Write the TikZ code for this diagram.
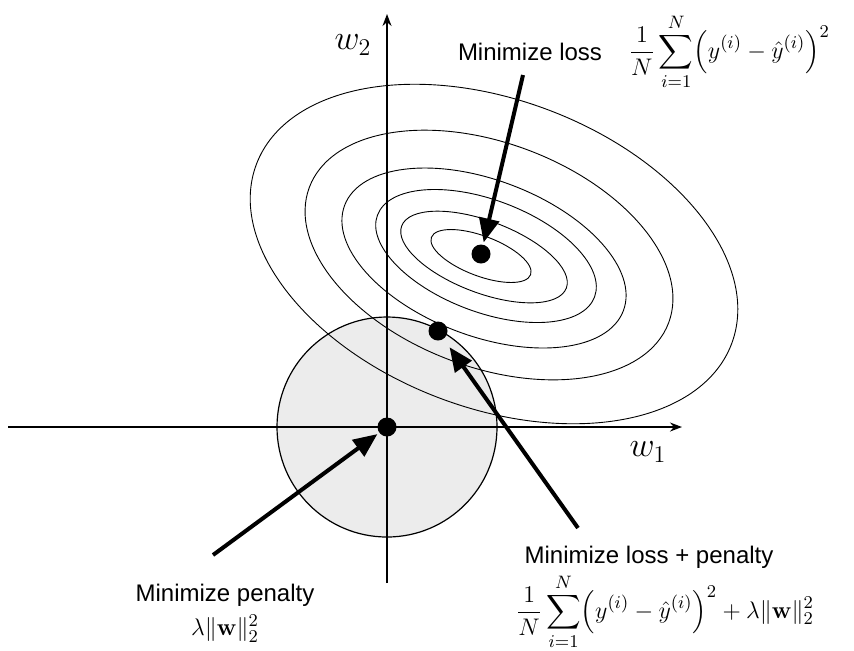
\documentclass[tikz,border=0pt]{standalone}
\usepackage{amsmath}
\usepackage[no-math]{fontspec}
\newfontfamily\labelfont{Liberation Sans}
\usetikzlibrary{arrows.meta, positioning}

\begin{document}
\begin{tikzpicture}[
        x=0.5pt, y=0.5pt,
        axis/.style={line width=0.8pt, -{Stealth[length=6pt, width=4.5pt]}},
        contour/.style={line width=0.45pt},
        dot/.style={circle, fill=black, inner sep=0pt, minimum size=9.5pt},
        pointer/.style={line width=2pt, -{Triangle[length=12pt, width=10pt]}, shorten >=1pt},
        caption/.style={font=\labelfont\fontsize{12}{14}\selectfont, inner sep=2pt},
        formula/.style={font=\fontsize{12.5}{15}\selectfont, inner sep=1pt},
        axislabel/.style={font=\fontsize{17}{20}\selectfont, inner sep=1pt}
    ]
    \useasboundingbox (0,0) rectangle (854,-650);

    % penalty region
    \draw[line width=0.6pt, fill=gray!15] (387,-427) circle[radius=110];

    % loss contours
    \foreach \cx/\cy/\ra/\rb in {494/-254/254/154, 489/-255/192/112, 484/-258/149/78,
                                 486/-256/116/56, 484/-257/88/36, 481/-256/53/20}
        \draw[contour, rotate around={-20.7:(\cx,\cy)}] (\cx,\cy) ellipse[x radius=\ra, y radius=\rb];

    % axes
    \coordinate (west) at (8,-427);
    \coordinate (east) at (682,-427);
    \coordinate (south) at (387,-583);
    \coordinate (north) at (387,-14);
    \draw[axis] (west) -- (east);
    \draw[axis] (south) -- (north);
    \node (wone) [axislabel] at (648,-452) {$w_1$};
    \node (wtwo) [axislabel] at (353,-45) {$w_2$};

    % minima
    \node (origin) [dot] at (387,-427) {};
    \node (lossmin) [dot] at (481,-254) {};
    \node (ridge) [dot] at (438,-331) {};

    % labels
    \node (losslabel) [caption] at (530,-52) {Minimize loss};
    \node (lossformula) [formula, right=10pt of losslabel] {$\displaystyle\frac{1}{N}\sum_{i=1}^{N}\Bigl(y^{(i)}-\hat{y}^{(i)}\Bigr)^2$};
    \node (penaltylabel) [caption] at (225,-595) {Minimize penalty};
    \node (penaltyformula) [formula, below=1pt of penaltylabel] {$\lambda\|\mathbf{w}\|_2^2$};
    \node (bothlabel) [caption] at (649,-557) {Minimize loss + penalty};
    \node (bothformula) [formula] at (665,-612) {$\displaystyle\frac{1}{N}\sum_{i=1}^{N}\Bigl(y^{(i)}-\hat{y}^{(i)}\Bigr)^2+\lambda\|\mathbf{w}\|_2^2$};

    % pointers
    \coordinate (losstail) at (523,-75);
    \coordinate (penaltytail) at (213,-555);
    \coordinate (bothtail) at (578,-528);
    \draw[pointer] (losstail) -- (lossmin);
    \draw[pointer] (penaltytail) -- (origin);
    \draw[pointer, shorten >=5pt] (bothtail) -- (ridge);

\end{tikzpicture}
\end{document}
